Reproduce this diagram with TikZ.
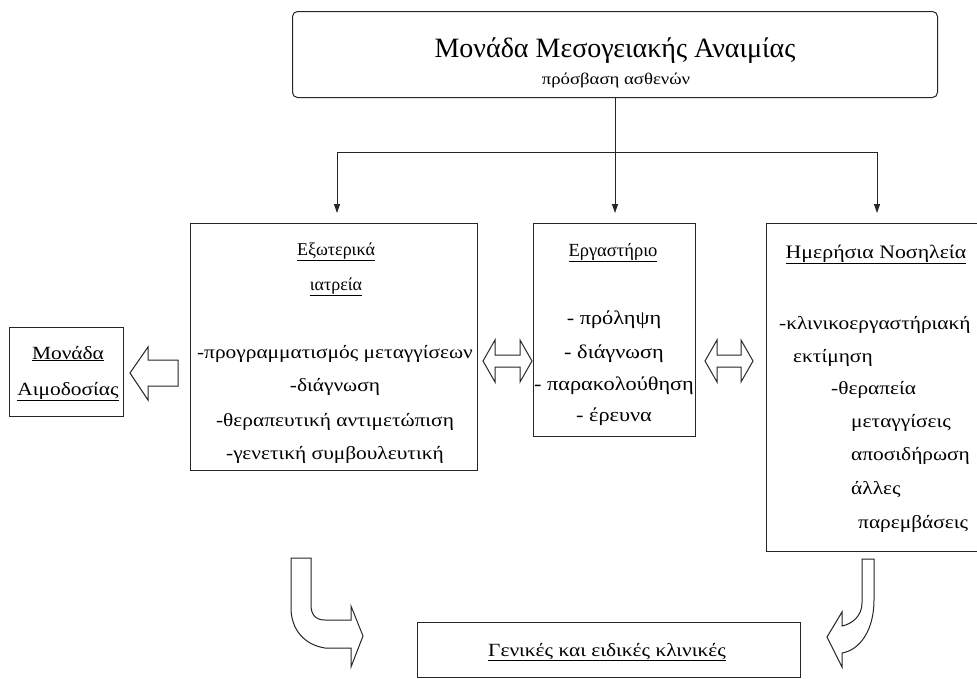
\documentclass[tikz,border=0pt]{standalone}
\usepackage{fontspec}
\setmainfont{Liberation Serif}
\newfontfamily\wide[FakeStretch=1.15]{Liberation Serif}
\usetikzlibrary{arrows.meta}
\begin{document}
\begin{tikzpicture}[x=1pt,y=-1pt,
  boxline/.style={draw=black!85,line width=1pt},
  txt/.style={inner sep=0pt,font=\wide\fontsize{18.6}{20}\selectfont},
  head/.style={inner sep=0pt,font=\fontsize{18}{20}\selectfont},
  thin/.style={draw=black!85,line width=0.9pt},
  tree/.style={thin,-{Triangle[length=9pt,width=6pt]},shorten >=10pt},
  hollow/.style={draw=black!85,line width=1pt,fill=white,line join=miter}]
\useasboundingbox (0,0) rectangle (977,678);
\fill[white] (0,0) rectangle (977,678);

% boxes
\node[boxline,rounded corners=5pt,minimum width=645pt,minimum height=86pt,anchor=north west] (top) at (292,11) {};
\node[boxline,minimum width=287pt,minimum height=247pt,anchor=north west] (el) at (190,223) {};
\node[boxline,minimum width=162pt,minimum height=213pt,anchor=north west] (lab) at (533,223) {};
\node[boxline,minimum width=220pt,minimum height=328pt,anchor=north west] (day) at (766,223) {};
\node[boxline,minimum width=114pt,minimum height=89pt,anchor=north west] (blood) at (9,327) {};
\node[boxline,minimum width=383pt,minimum height=55pt,anchor=north west] (clin) at (417,622) {};

% top texts
\node[head,font=\fontsize{28}{30}\selectfont,anchor=base] (t1) at (615,57) {Μονάδα Μεσογειακής Αναιμίας};
\node[txt,font=\wide\fontsize{16.3}{18}\selectfont,anchor=base] (t2) at (616,84) {πρόσβαση ασθενών};

% left box
\node[head,anchor=base] (e1) at (336,255) {\underline{Εξωτερικά}};
\node[head,anchor=base] (e2) at (336,290) {\underline{ιατρεία}};
\node[txt,anchor=base] (e3) at (335,358) {-προγραμματισμός μεταγγίσεων};
\node[txt,anchor=base] (e4) at (335,391) {-διάγνωση};
\node[txt,anchor=base] (e5) at (335,426) {-θεραπευτική αντιμετώπιση};
\node[txt,anchor=base] (e6) at (335,459) {-γενετική συμβουλευτική};

% lab box
\node[head,font=\fontsize{18.5}{20}\selectfont,anchor=base] (l1) at (613,256) {\underline{Εργαστήριο}};
\node[txt,font=\wide\fontsize{19.4}{21}\selectfont,anchor=base] (l2) at (614,324) {- πρόληψη};
\node[txt,font=\wide\fontsize{19.4}{21}\selectfont,anchor=base] (l3) at (614,358) {- διάγνωση};
\node[txt,font=\wide\fontsize{19.4}{21}\selectfont,anchor=base] (l4) at (614,390) {- παρακολούθηση};
\node[txt,font=\wide\fontsize{19.4}{21}\selectfont,anchor=base] (l5) at (614,421) {- έρευνα};

% day box
\node[txt,font=\wide\fontsize{19}{21}\selectfont,anchor=base] (d1) at (876,258) {\underline{Ημερήσια Νοσηλεία}};
\node[txt,anchor=base west] (d2) at (779,329) {-κλινικοεργαστήριακή};
\node[txt,anchor=base west] (d3) at (793,362) {εκτίμηση};
\node[txt,anchor=base west] (d4) at (831,394) {-θεραπεία};
\node[txt,anchor=base west] (d5) at (851,427) {μεταγγίσεις};
\node[txt,anchor=base west] (d6) at (851,460) {αποσιδήρωση};
\node[txt,anchor=base west] (d7) at (851,494) {άλλες};
\node[txt,anchor=base west] (d8) at (858,528) {παρεμβάσεις};

% blood box
\node[txt,anchor=base] (b1) at (68,359) {\underline{Μονάδα}};
\node[txt,anchor=base] (b2) at (68,395) {\underline{Αιμοδοσίας}};

% clinics
\node[txt,anchor=base] (c1) at (607,656) {\underline{Γενικές και ειδικές κλινικές}};

% tree connectors
\coordinate (jL) at (337,152);
\coordinate (jR) at (877,152);
\coordinate (jM) at (top.south |- jL);
\draw[thin] (top.south) -- (jM);
\draw[thin] (jL) -- (jR);
\draw[tree] (jL) -- (jL |- el.north);
\draw[tree] (jM) -- (jM |- lab.north);
\draw[tree] (jR) -- (jR |- day.north);

% hollow arrow to blood bank
\draw[hollow] (178,360) -- (148,360) -- (148,347) -- (130,373) -- (148,400) -- (148,386) -- (178,386) -- cycle;

% double arrows
\foreach \a/\b in {483/532,705/753}{
  \draw[hollow] (\a,361) -- (\a+12,340) -- (\a+12,355) -- (\b-12,355) -- (\b-12,340) -- (\b,361)
     -- (\b-12,382) -- (\b-12,367) -- (\a+12,367) -- (\a+12,382) -- cycle;
}

% bent arrows
\draw[hollow] (291,558) -- (311,558) -- (311,605) .. controls (311,614) and (315,620) .. (325,620)
  -- (351,620) -- (351,606) -- (363,636) -- (351,667) -- (351,648) -- (325,648)
  .. controls (305,645) and (291,630) .. (291,608) -- cycle;
\draw[hollow] (862,559) -- (874,559) -- (874,600) .. controls (874,630) and (860,650) .. (842,653)
  -- (842,667) -- (827,637) -- (842,612) -- (842,626) .. controls (852,624) and (862,616) .. (862,603) -- cycle;
\end{tikzpicture}
\end{document}
